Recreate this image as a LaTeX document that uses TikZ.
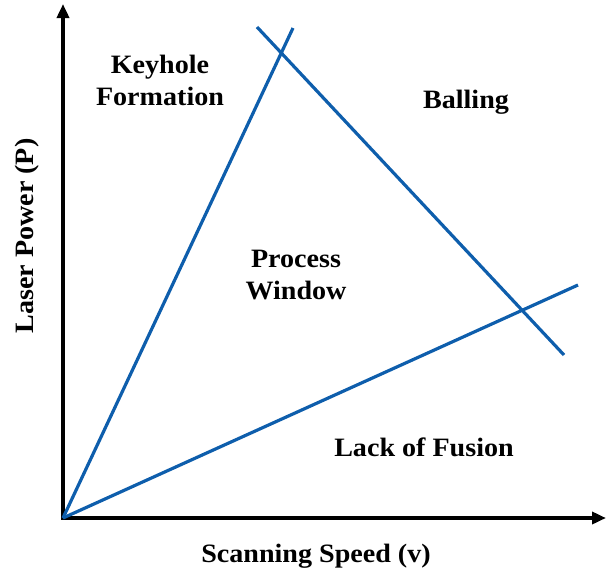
\documentclass[tikz,border=0pt]{standalone}
\usepackage{fontspec}
\setmainfont{Liberation Serif}[FakeStretch=1.06]
\usetikzlibrary{arrows.meta}
\definecolor{lineblue}{RGB}{14,94,172}
\tikzset{
  axis/.style={line width=3.6pt, -{Triangle[length=14pt,width=12pt]}},
  bound/.style={line width=3.2pt, draw=lineblue},
  region/.style={font=\fontsize{26.5}{32}\selectfont\bfseries, align=center, inner sep=0pt}
}
\begin{document}
\begin{tikzpicture}[x=1pt,y=-1pt]
  \useasboundingbox (0,0) rectangle (606,576);
  % axes
  \coordinate (o) at (63,518);
  \coordinate (ytip) at (63,4);
  \coordinate (xtip) at (606,518);
  \coordinate (ocorner) at (61.2,518);
  \draw[axis] (o) -- (ytip);
  \draw[axis] (ocorner) -- (xtip);
  % boundaries of the process window
  \coordinate (k1) at (293,28);
  \coordinate (f1) at (578,285);
  \coordinate (b0) at (257,27);
  \coordinate (b1) at (564,355);
  \draw[bound] (o) -- (k1);
  \draw[bound] (o) -- (f1);
  \draw[bound] (b0) -- (b1);
  % labels
  \node[region] (key) at (160,80) {Keyhole\\Formation};
  \node[region] (ball) at (466,102) {Balling};
  \node[region] (win) at (296,275) {Process\\Window};
  \node[region] (lof) at (424,447) {Lack of Fusion};
  \node[region] (xl) at (316,556) {Scanning Speed (v)};
  \node[region, rotate=90] (yl) at (27,236) {Laser Power (P)};
\end{tikzpicture}
\end{document}
